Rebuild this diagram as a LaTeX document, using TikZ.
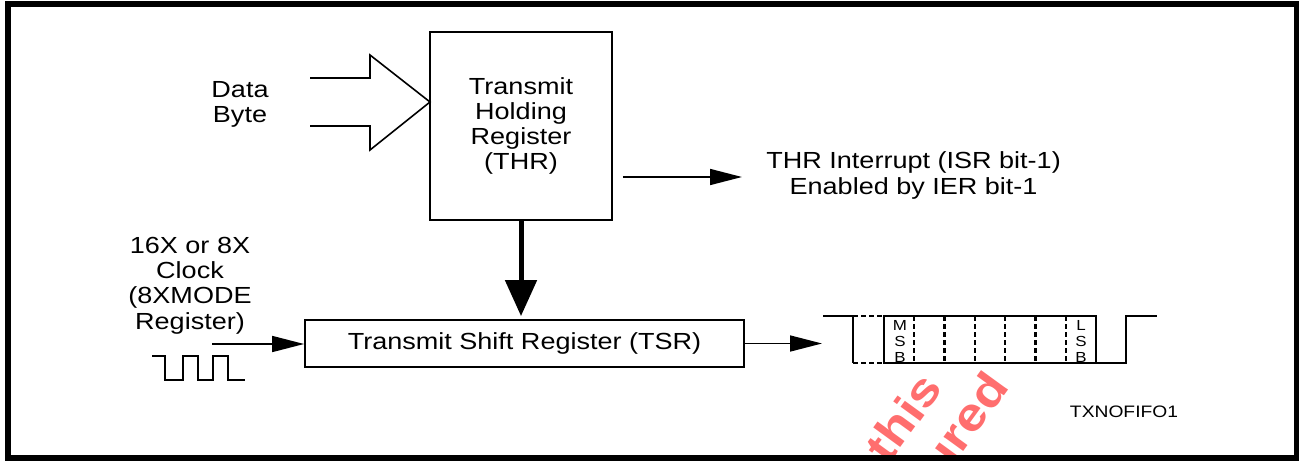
\documentclass[tikz,border=0pt]{standalone}
\usepackage{fontspec}
\setmainfont{Liberation Sans}[FakeStretch=1.16]
\usetikzlibrary{arrows.meta,calc}
\definecolor{wmred}{RGB}{255,110,110}

\begin{document}
\begin{tikzpicture}[x=0.5pt,y=-0.5pt,
    txt/.style={font=\fontsize{11.65}{12.65}\selectfont,align=center,inner sep=0pt},
    reg/.style={draw,line width=0.9pt,txt},
    sig/.style={line width=0.8pt,-{Triangle[length=16pt,width=8pt]}},
    wave/.style={line width=0.9pt},
    bits/.style={font=\fontsize{7.3}{8.2}\selectfont,align=center,inner sep=0pt}]
  \useasboundingbox (0,0) rectangle (1299,460);

  % watermark, under the frame
  \begin{scope}[every node/.style={text=wmred,font=\fontsize{23}{23}\selectfont\bfseries,rotate=54}]
    \node (wmthis) at (903,417) {this};
    \node (wmured) at (963,424) {ured};
  \end{scope}

  \node[reg,minimum width=91pt,minimum height=94pt] (thr) at (521,126)
    {Transmit\\Holding\\Register\\(THR)};
  \node[reg,minimum width=219.5pt,minimum height=23.5pt] (tsr) at (524.5,343.5)
    {Transmit Shift Register (TSR)};

  % data byte in
  \node[txt] (data) at (240,104.5) {Data\\Byte};
  \coordinate (tip) at (430,102);
  \draw[line width=0.8pt] ($(tip)+(-120,-24)$) -- ++(60,0) -- ++(0,-23) -- (tip)
    -- ++(-60,48) -- ++(0,-24) -- ++(-60,0);

  % interrupt
  \node[txt,anchor=west,inner xsep=12pt] (irq) at (742,175.5)
    {THR Interrupt (ISR bit-1)\\Enabled by IER bit-1};
  \coordinate (irqin) at ($(thr.east)+(10,51)$);
  \draw[sig] (irqin) -- (irqin -| irq.west);

  \draw[line width=2.5pt,-{Triangle[length=18pt,width=15.5pt]},shorten >=1.5pt]
    (thr.south) -- (thr.south |- tsr.north);

  % clock
  \node[txt] (clk) at (190,285.5) {16X or 8X\\Clock\\(8XMODE\\Register)};
  \coordinate (clkin) at (212,344);
  \draw[sig] (clkin) -- (clkin -| tsr.west);
  \draw[line width=0.8pt] (152,356) -- (165,356) -- (165,380) -- (183,380) -- (183,356)
    -- (198,356) -- (198,380) -- (213,380) -- (213,356) -- (228,356) -- (228,380) -- (245,380);

  % serial frame
  \coordinate (txd) at (822,343.5);
  \draw[sig] (tsr.east) -- (txd);
  \def\hi{316}
  \def\lo{363}
  \draw[wave] (823,\hi) -- (853,\hi) -- (853,\lo);
  \draw[wave,dash pattern=on 2.5pt off 1.5pt] (853,\hi) -- (884,\hi) (853,\lo) -- (884,\lo);
  \draw[wave] (884,\hi) rectangle (1096,\lo);
  \draw[wave] (1096,\lo) -- (1126,\lo) -- (1126,\hi) -- (1157,\hi);
  \foreach \k in {1,...,6}
    \draw[line width=1.1pt,dash pattern=on 2.5pt off 1.5pt] ({884+\k*30.29},\hi) -- ({884+\k*30.29},\lo);
  \node[bits] (msb) at (900,341.5) {M\\S\\B};
  \node[bits] (lsb) at (1081,341.5) {L\\S\\B};

  \node[font=\fontsize{8.3}{10}\selectfont,inner sep=0pt] (fig) at (1124,412) {TXNOFIFO1};

  \draw[line width=3pt] (8,4) rectangle (1297,458);
\end{tikzpicture}
\end{document}
